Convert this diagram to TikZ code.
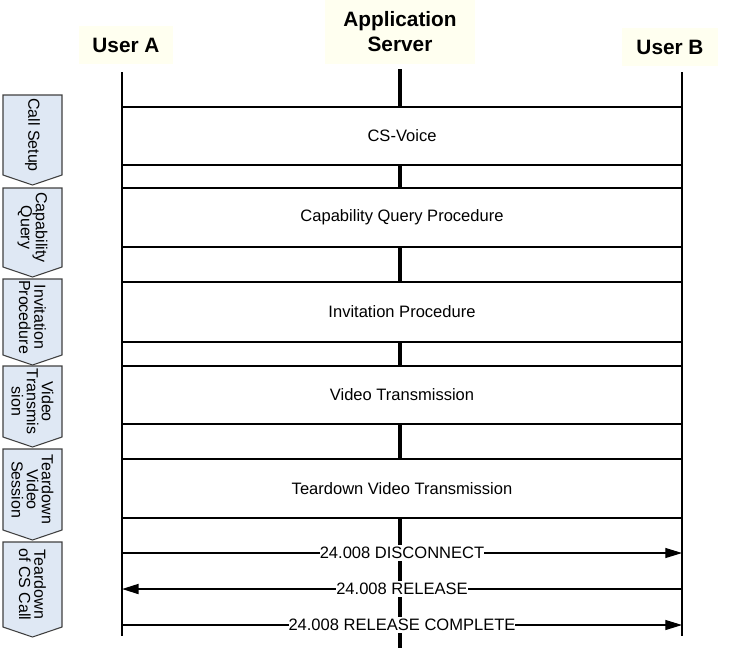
\documentclass[tikz,border=0pt]{standalone}
\usepackage{fontspec}
\setmainfont{Liberation Sans}
\usetikzlibrary{fit,arrows.meta}

\begin{document}
\begin{tikzpicture}[x=0.75pt,y=-0.75pt]
    \definecolor{headerFill}{HTML}{FFFFF0}
    \definecolor{phaseFill}{HTML}{DFE8F4}
    \definecolor{phaseBorder}{HTML}{404040}

    \tikzset{
      header/.style={fill=headerFill, font=\bfseries\fontsize{15.6}{18.75}\selectfont, align=center, inner sep=0pt},
      lifeline/.style={line width=1.1pt},
      server/.style={line width=2.4pt},
      procbox/.style={draw, fill=white, line width=0.8pt, inner sep=0pt},
      proctext/.style={font=\fontsize{12.4}{15}\selectfont, inner sep=0pt},
      phase/.style={draw=phaseBorder, fill=phaseFill, line width=0.8pt},
      phasetext/.style={rotate=-90, align=center, font=\fontsize{12}{11.4}\selectfont, inner sep=0pt},
      msg/.style={line width=0.8pt, -{Triangle[length=12.5pt,width=7.5pt]}},
      msglabel/.style={fill=white, inner xsep=0pt, inner ysep=1.5pt, font=\fontsize{12.4}{15}\selectfont}
    }

    \useasboundingbox (0,0) rectangle (730,651);

    % Headers
    \node[header, minimum width=71pt, minimum height=29pt] (userA) at (126,45) {User A};
    \node[header, minimum width=112pt, minimum height=48pt] (server) at (400,32) {Application\\Server};
    \node[header, minimum width=72pt, minimum height=29pt] (userB) at (670,47) {User B};

    % Lifelines
    \coordinate (aTop) at (122,72);
    \coordinate (aEnd) at (122,636);
    \coordinate (sTop) at (400,69);
    \coordinate (sEnd) at (400,648);
    \coordinate (bTop) at (682,72);
    \coordinate (bEnd) at (682,636);
    \draw[lifeline] (aTop) -- (aEnd);
    \draw[lifeline] (bTop) -- (bEnd);
    \draw[server] (sTop) -- (sEnd);

    % Procedure boxes
    \foreach \ya/\yb/\id/\txt in {107/165/csVoice/CS-Voice,
                                  188/247/capProc/Capability Query Procedure,
                                  282/342/invProc/Invitation Procedure,
                                  366/424/vidProc/Video Transmission,
                                  459/518/tearProc/Teardown Video Transmission}
    {
        \node[procbox, fit={(122,\ya) (682,\yb)}] (\id) {};
        \node[proctext] (\id Text) at (\id.center) {\txt};
    }

    % Messages of the CS call teardown
    \coordinate (aDisc) at (122,553);
    \coordinate (bDisc) at (682,553);
    \coordinate (aRel) at (122,589);
    \coordinate (bRel) at (682,589);
    \coordinate (aComp) at (122,625);
    \coordinate (bComp) at (682,625);
    \draw[msg] (aDisc) -- (bDisc) node[msglabel, midway] (disc) {24.008 DISCONNECT};
    \draw[msg, line width=1.4pt] (bRel) -- (aRel) node[msglabel, midway] (rel) {24.008 RELEASE};
    \draw[msg] (aComp) -- (bComp) node[msglabel, midway] (comp) {24.008 RELEASE COMPLETE};

    % Phases on the left
    \foreach \ya/\yb/\id/\txt in {95/185/callSetup/Call Setup,
                                  188/277/capQuery/{Capability\\Query},
                                  279/365/invPhase/{Invitation\\Procedure},
                                  366/447/vidPhase/{Video\\Transmis\\sion},
                                  449/540/tearVid/{Teardown\\Video\\Session},
                                  542/637/tearCS/{Teardown\\of CS Call}}
    {
        \draw[phase] (3,\ya) -- (62,\ya) -- (62,\yb-10) -- (32.5,\yb) -- (3,\yb-10) -- cycle;
        \node[phasetext] (\id) at (32.5,{(\ya+\yb-10)/2}) {\txt};
    }

\end{tikzpicture}
\end{document}
